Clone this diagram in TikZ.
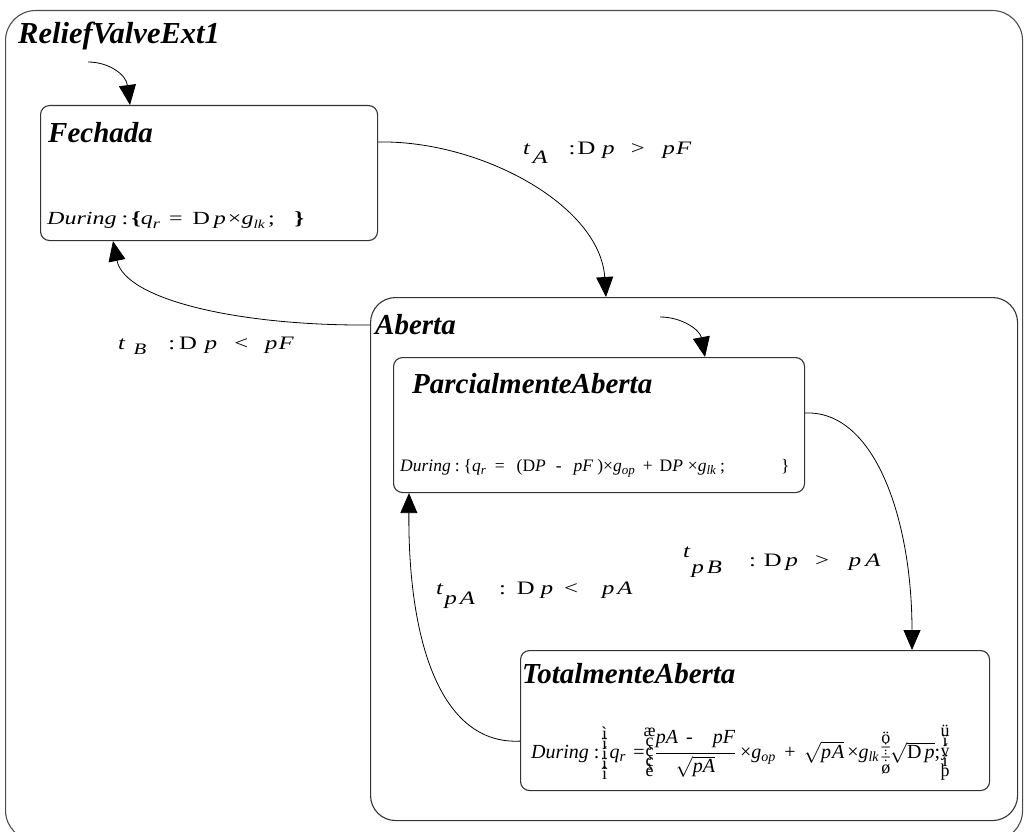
\documentclass[tikz,border=0pt]{standalone}
\usepackage{fontspec}
\setmainfont{Liberation Serif}
\newfontfamily\widefont[FakeStretch=1.3]{Liberation Serif}
\usetikzlibrary{arrows.meta,calc}
\newcommand{\lowsub}[2][3pt]{\raisebox{-#1}{#2}}
\newcommand{\hb}[1]{\hbox to 10pt{\hss #1\hss}}
\newcommand{\stk}[1]{$\vcenter{\fontsize{18}{10}\selectfont\baselineskip=10pt\lineskiplimit=-30pt\lineskip=0pt #1}$}
\newcommand{\hs}[1]{\hspace*{#1pt}}
\begin{document}
\begin{tikzpicture}[x=1pt,y=-1pt,
  statebox/.style={draw=black!80, line width=1.1pt, rounded corners=#1, anchor=north west, inner sep=0pt},
  statebox/.default=9pt,
  ttl/.style={anchor=base west, inner sep=0pt, font=\fontsize{29}{30}\selectfont\bfseries\itshape},
  txt/.style={anchor=base west, inner sep=0pt},
  lbl/.style={anchor=base west, inner sep=0pt, font=\widefont\fontsize{19}{22}\selectfont},
  conn/.style={draw=black, line width=0.8pt},
  arr/.style={conn, -{Triangle[length=20pt,width=17pt]}}]
\useasboundingbox (0,0) rectangle (1026,832);
\begin{scope}
\clip (0,0) rectangle (1026,832);
\node[statebox=30pt, draw=black!70, minimum width=1017pt, minimum height=830pt] (outer) at (5,10) {};
\end{scope}
% states
\node[statebox, minimum width=337pt, minimum height=135pt] (fech) at (40,105) {};
\node[statebox=25pt, minimum width=647pt, minimum height=523pt] (ab) at (370,297) {};
\node[statebox, minimum width=411pt, minimum height=135pt] (pa) at (393,357) {};
\node[statebox, minimum width=469pt, minimum height=140pt] (ta) at (520,650) {};
% titles
\node[ttl, font=\fontsize{30.5}{32}\selectfont\bfseries\itshape] (t0) at (18,44) {ReliefValveExt1};
\node[ttl] (t1) at (48,143) {Fechada};
\node[ttl] (t2) at (375,334) {Aberta};
\node[ttl] (t3) at (412,393) {ParcialmenteAberta};
\node[ttl] (t4) at (522,683) {TotalmenteAberta};
% during actions
\node[txt, font=\widefont\fontsize{18.5}{20}\selectfont] (d1) at (47,225)
  {\textit{During}\hs{5}:\hs{3}\textbf{\{}\textit{q}\lowsub{\fontsize{14}{14}\selectfont\textit{r}}\hs{9}=\hs{10}D\hs{4}\textit{p}\hs{2}×\textit{g}\lowsub{\fontsize{12}{12}\selectfont\textit{lk}}\hs{3};\hs{20}\textbf{\}}};
\node[txt, font=\fontsize{17.5}{19}\selectfont] (d2) at (400,471)
  {\textit{During}\hs{4}:\hs{4}\{\textit{q}\lowsub{\fontsize{13}{13}\selectfont\textit{r}}\hs{9}=\hs{12}(D\textit{P}\hs{10}-\hs{12}\textit{pF}\hs{4})×\textit{g}\lowsub{\fontsize{13}{13}\selectfont\textit{op}}\hs{8}+\hs{7}D\textit{P}\hs{5}×\textit{g}\lowsub{\fontsize{13}{13}\selectfont\textit{lk}}\hs{4};\hs{56}\}};
\node[txt, font=\fontsize{20}{22}\selectfont] (d3) at (531,758)
  {\textit{During}\hs{5}:\stk{\hb{ì}\hb{ï}\hb{í}\hb{ï}\hb{î}}\textit{q}\lowsub{\fontsize{15}{15}\selectfont\textit{r}}\hs{8}=\stk{\hb{æ}\hb{ç}\hb{ç}\hb{ç}\hb{è}}$\displaystyle\frac{\textit{pA\hs{8}-\hs{20}pF}}{\sqrt{\textit{pA}}}$\hs{4}×\textit{g}\lowsub{\fontsize{14}{14}\selectfont\textit{op}}\hs{9}+\hs{8}$\sqrt{\textit{p\kern1pt A}}$\hs{3}×\textit{g}\lowsub{\fontsize{14}{14}\selectfont\textit{lk}}\hs{2}\stk{\hb{ö}\hb{÷}\hb{÷}\hb{ø}}\hs{-1}$\sqrt{\textrm{D}\hs{3}\textit{p}}$;\stk{\hb{ü}\hb{ï}\hb{ý}\hb{ï}\hb{þ}}};
% transition labels
\node[lbl] (la) at (523,155) {\textit{t}\hs{2}\lowsub[9pt]{\textit{A}}\hs{21}:\hs{2}D\hs{7}\textit{p}\hs{16}>\hs{18}\textit{p\kern1pt F}};
\node[lbl] (lb) at (118,349) {\textit{t}\hs{8}\lowsub[5pt]{\fontsize{16}{16}\selectfont\textit{B}}\hs{22}:\hs{4}D\hs{8}\textit{p}\hs{17}<\hs{17}\textit{p\kern1pt F}};
\node[lbl] (lpa) at (436,594) {\textit{t}\hs{1}\lowsub[10pt]{\textit{p\kern3pt A}}\hs{24}:\hs{11}D\hs{6}\textit{p}\hs{11}<\hs{24}\textit{p\kern3pt A}};
\node[lbl] (lpb) at (683,557) {\textit{t}\hs{1}\lowsub[16pt]{\textit{p\kern3pt B}}\hs{27}\raisebox{-9pt}{:\hs{8}D\hs{4}\textit{p}\hs{17}>\hs{20}\textit{p\kern4pt A}}};
% init points
\coordinate (i0) at (88,62);
\coordinate (i1) at (660,317);
% connectors
\draw[arr] (i0) .. controls (108,62) and (126,74) .. ($(fech.north west)+(90,0)$);
\draw[arr] ($(fech.north east)+(0,37)$) .. controls (480,140) and (600,205) .. ($(ab.north west)+(236,0)$);
\draw[arr] ($(ab.north west)+(0,28)$) .. controls (240,326) and (125,300) .. ($(fech.south west)+(73,0)$);
\draw[arr] (i1) .. controls (682,317) and (700,330) .. ($(pa.north west)+(312,0)$);
\draw[arr] ($(pa.north east)+(0,56)$) .. controls (875,410) and (912,520) .. ($(ta.north west)+(392,0)$);
\draw[arr] ($(ta.south west)+(0,-50)$) .. controls (440,745) and (408,640) .. ($(pa.south west)+(16,0)$);
\end{tikzpicture}
\end{document}
